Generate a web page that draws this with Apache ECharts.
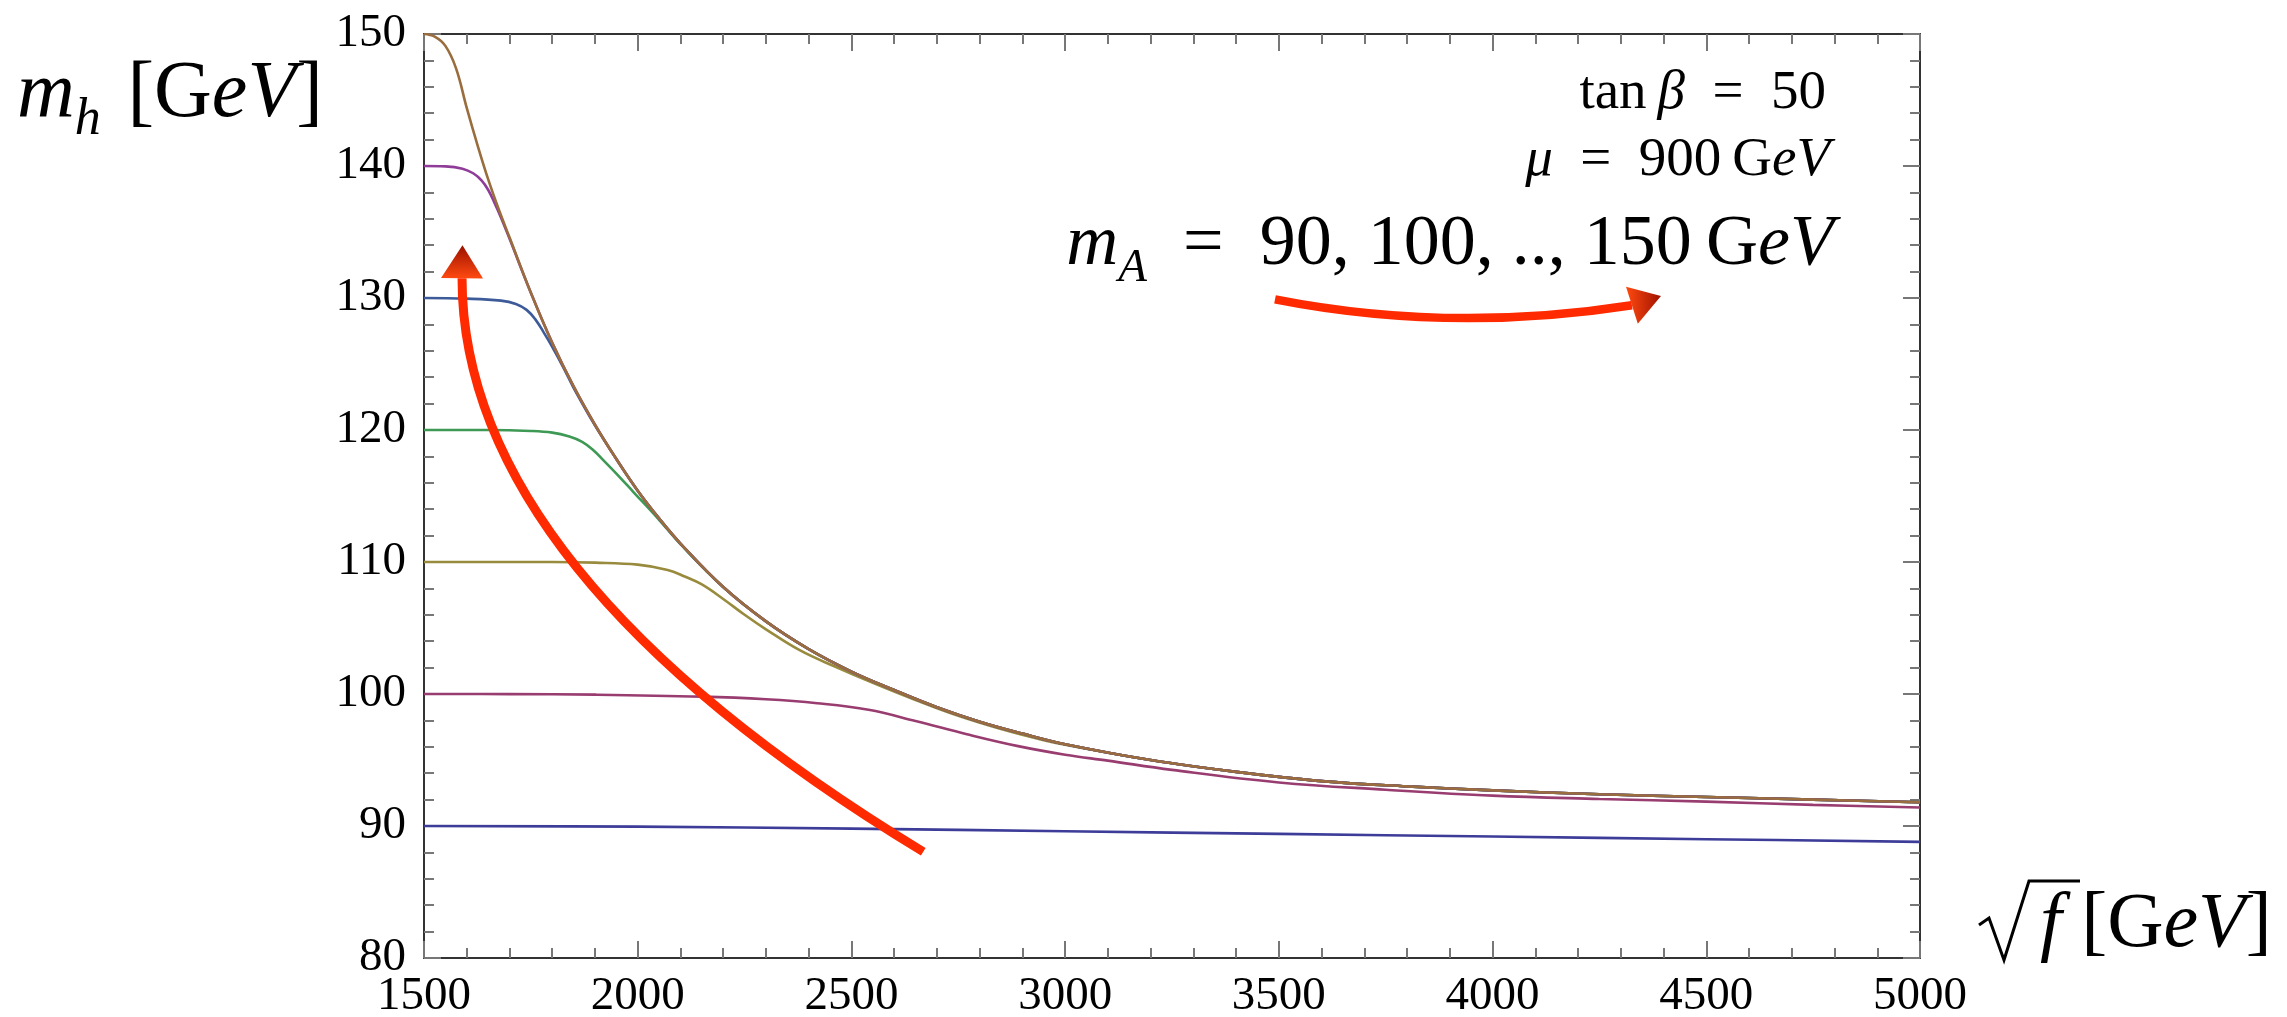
<!DOCTYPE html>
<html>
<head>
<meta charset="utf-8">
<script src="https://cdn.jsdelivr.net/npm/echarts@6/dist/echarts.min.js"></script>
<style>
  html, body { margin: 0; padding: 0; background: #fff; }
  #chart { width: 2287px; height: 1017px; }
</style>
</head>
<body>
<div id="chart"></div>
<script>
// m_A values of the seven curves and their colours
var massA = [90, 100, 110, 120, 130, 140, 150];
var colors = ['#3d3d99', '#993d71', '#998b3d', '#3d9954', '#3d5a99', '#8f3d99', '#996d3d'];

var envelope = [[1500, 150.0], [1525, 149.8], [1550, 149.1], [1575, 147.4], [1600, 144.4], [1625, 141.6],
  [1650, 139.0], [1675, 136.7], [1700, 134.6], [1750, 130.4], [1800, 126.6], [1850, 123.3], [1900, 120.4],
  [1950, 117.8], [2000, 115.4], [2050, 113.3], [2100, 111.4], [2200, 108.1], [2300, 105.5], [2400, 103.4],
  [2500, 101.7], [2600, 100.3], [2700, 99.0], [2800, 97.9], [2900, 97.0], [3000, 96.2], [3200, 95.0],
  [3400, 94.1], [3600, 93.4], [3800, 93.0], [4000, 92.7], [4250, 92.4], [4500, 92.2], [4750, 92.0], [5000, 91.8]];

// the part of each curve that differs from the envelope
var head140 = [[1500, 140.0], [1550, 139.97], [1590, 139.8], [1615, 139.45], [1635, 138.9], [1650, 138.2],
  [1665, 137.2], [1680, 136.1], [1700, 134.5]];
var head130 = [[1500, 130.0], [1600, 129.95], [1680, 129.8], [1715, 129.55], [1740, 129.1], [1760, 128.4],
  [1780, 127.4], [1800, 126.3], [1825, 124.8], [1850, 123.2], [1900, 120.35]];
var head120 = [[1500, 120.0], [1650, 120.0], [1750, 119.93], [1800, 119.8], [1840, 119.5], [1870, 119.1],
  [1895, 118.5], [1920, 117.7], [1950, 116.7], [1990, 115.3], [2050, 113.2], [2100, 111.35]];
var head110 = [[1500, 110.0], [1800, 110.0], [1900, 109.95], [2000, 109.8], [2070, 109.4], [2110, 108.9],
  [2150, 108.3], [2200, 107.2], [2250, 106.0], [2300, 104.9], [2380, 103.3], [2460, 102.1], [2550, 100.85],
  [2650, 99.55], [2750, 98.35], [2850, 97.35], [2950, 96.5], [3000, 96.15]];
var curve100 = [[1500, 100.0], [1700, 99.99], [1900, 99.95], [2150, 99.8], [2300, 99.6], [2420, 99.3],
  [2540, 98.8], [2650, 97.95], [2770, 96.95], [2890, 96.05], [3000, 95.4], [3100, 94.95], [3250, 94.25],
  [3500, 93.3], [3750, 92.75], [4000, 92.3], [4250, 92.05], [4500, 91.85], [4750, 91.6], [5000, 91.4]];
var curve90 = [[1500, 90.0], [2000, 89.95], [2500, 89.8], [3000, 89.6], [3500, 89.4], [4000, 89.2],
  [4500, 89.0], [5000, 88.8]];

function tail(from) {
  return envelope.filter(function(p) { return p[0] > from; });
}
var curves = [
  curve90,
  curve100,
  head110.concat(tail(3000)),
  head120.concat(tail(2100)),
  head130.concat(tail(1900)),
  head140.concat(tail(1700)),
  envelope
];

var serif = "'Liberation Serif', 'Times New Roman', serif";
var axisLine = { show: true, onZero: false, lineStyle: { color: '#333', width: 2 } };
var tickStyle = { color: '#777', width: 2 };
function plain(v) { return String(v); }

function xAx(pos, labels) {
  return {
    type: 'value', min: 1500, max: 5000, interval: 500, position: pos,
    axisLine: axisLine,
    axisTick: { show: true, inside: true, length: 17, lineStyle: tickStyle },
    minorTick: { show: true, splitNumber: 5, length: 10, lineStyle: tickStyle },
    splitLine: { show: false },
    axisLabel: { show: labels, color: '#000', fontFamily: serif, fontSize: 47, margin: 15, formatter: plain }
  };
}
function yAx(pos, labels) {
  return {
    type: 'value', min: 80, max: 150, interval: 10, position: pos,
    axisLine: axisLine,
    axisTick: { show: true, inside: true, length: 17, lineStyle: tickStyle },
    minorTick: { show: true, splitNumber: 5, length: 10, lineStyle: tickStyle },
    splitLine: { show: false },
    axisLabel: { show: labels, color: '#000', fontFamily: serif, fontSize: 47, margin: 18, formatter: plain }
  };
}

var chart = echarts.init(document.getElementById('chart'));
chart.setOption({
  animation: false,
  backgroundColor: '#fff',
  grid: { left: 424, right: 367, top: 34, bottom: 59, outerBoundsMode: 'none' },
  xAxis: [xAx('bottom', true), xAx('top', false)],
  yAxis: [yAx('left', true), yAx('right', false)],
  series: curves.map(function(c, i) {
    return {
      name: 'mA ' + massA[i], type: 'line', data: c, xAxisIndex: 0, yAxisIndex: 0,
      showSymbol: false, smooth: 0.4,
      lineStyle: { color: colors[i], width: 2.6 }, itemStyle: { color: colors[i] }
    };
  })
});

// rich math text
function mathRich(F) {
  var L = Math.round(F * 1.3);
  return {
    r: { fontFamily: serif, fontSize: F, lineHeight: L, fill: '#000' },
    i: { fontFamily: serif, fontSize: F, fontStyle: 'italic', lineHeight: L, fill: '#000' },
    s: { fontFamily: serif, fontSize: Math.round(F * 0.65), fontStyle: 'italic', lineHeight: L,
         verticalAlign: 'bottom', fill: '#000' }
  };
}
function mathText(txt, F, x, baseline, align) {
  return {
    type: 'text', x: x, y: baseline - 0.34 * F, z: 100,
    style: { text: txt, rich: mathRich(F), align: align, verticalAlign: 'middle' }
  };
}

var g = [
  mathText('{i|m}{s|h}{r|\u2004[G}{i|eV}{r|]}', 80, 17, 122, 'left'),
  mathText('{i|f}{r|\u2005[G}{i|eV}{r|]}', 78, 2040, 952, 'left'),
  { type: 'polyline', z: 100, shape: { points: [[1979, 925], [1989, 918], [2004, 960], [2029, 881], [2080, 881]] },
    style: { stroke: '#000', lineWidth: 3, fill: null } },
  mathText('{r|tan\u2009}{i|\u03b2}{r|\u2002=\u200250}', 55, 1826, 112, 'right'),
  mathText('{i|\u03bc}{r|\u2002=\u2002900\u2009G}{i|eV}', 55, 1830, 179, 'right'),
  mathText('{i|m}{s|A}{r|\u2002=\u200290, 100, .., 150\u2009G}{i|eV}', 72, 1834, 270, 'right')
];

// red arrows, control points in data coordinates: tail, control, head base, apex
var arrowUp = [[2668, 88.05], [1589, 109.3], [1589, 131.5], [1590, 134.0]];
var arrowRight = [[3491, 129.9], [3900, 127.3], [4326, 129.45], [4394, 130.15]];

function arrow(pts, halfW, lw, grad) {
  var p = pts.map(function(d) { return chart.convertToPixel({ gridIndex: 0 }, d); });
  var dx = p[3][0] - p[2][0], dy = p[3][1] - p[2][1];
  var len = Math.sqrt(dx * dx + dy * dy);
  var nx = -dy / len * halfW, ny = dx / len * halfW;
  return [
    { type: 'bezierCurve', z: 110,
      shape: { x1: p[0][0], y1: p[0][1], cpx1: p[1][0], cpy1: p[1][1], x2: p[2][0], y2: p[2][1] },
      style: { stroke: '#ff2a00', lineWidth: lw, fill: null } },
    { type: 'polygon', z: 111,
      shape: { points: [p[3], [p[2][0] + nx, p[2][1] + ny], [p[2][0] - nx, p[2][1] - ny]] },
      style: { fill: grad } }
  ];
}
g = g.concat(arrow(arrowUp, 21, 9, {
  type: 'linear', x: 0, y: 0, x2: 0, y2: 1,
  colorStops: [{ offset: 0, color: '#9a1000' }, { offset: 1, color: '#ff4a10' }]
}));
g = g.concat(arrow(arrowRight, 19.5, 8.5, {
  type: 'linear', x: 0, y: 0, x2: 1, y2: 0,
  colorStops: [{ offset: 0, color: '#ff4a10' }, { offset: 1, color: '#a01200' }]
}));

chart.setOption({ graphic: g });
window.addEventListener('resize', function() { chart.resize(); });
</script>
</body>
</html>
